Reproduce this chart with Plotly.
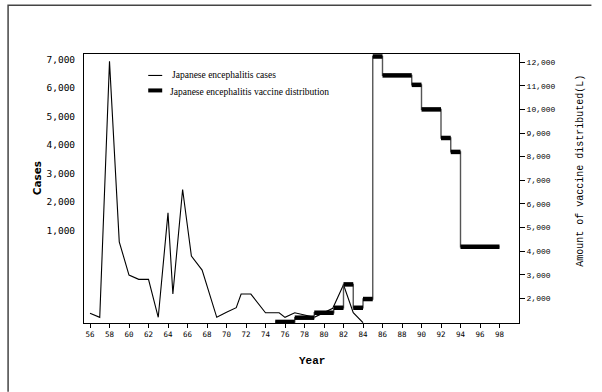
import plotly.graph_objects as go

# ---------------- data ----------------
case_years = [56, 57, 58, 59, 60, 61, 62, 63, 64, 64.5, 65.5, 66.4, 67.5, 69, 70, 71, 71.5, 72.5,
              74, 75.4, 76, 77, 78, 79, 80.9, 82, 83, 84]
cases = [257, 151, 6950, 2157, 1273, 1159, 1159, 151, 2926, 769, 3546, 1777, 1406, 151, 284, 406,
         769, 769, 273, 273, 151, 273, 212, 151, 390, 1016, 273, 8]

vac_years = [75, 76, 77, 78, 79, 80, 81, 82, 83, 84, 85, 86, 87, 88, 89, 90, 91, 92, 93, 94, 95, 96, 97]
vaccine = [1000, 1000, 1180, 1180, 1390, 1390, 1600, 2590, 1600, 1970, 12240, 11440, 11440, 11440,
           11040, 10000, 10000, 8790, 8200, 4180, 4180, 4180, 4180]

x_ticks = list(range(56, 99, 2))
x_ticklabels = [str(v) for v in x_ticks]
case_ticks = [1000, 2000, 3000, 4000, 5000, 6000, 7000]
case_ticklabels = ["1,000", "2,000", "3,000", "4,000", "5,000", "6,000", "7,000"]
vac_ticks = [2000, 3000, 4000, 5000, 6000, 7000, 8000, 9000, 10000, 11000, 12000]
vac_ticklabels = ["2,000", "3,000", "4,000", "5,000", "6,000", "7,000", "8,000", "9,000",
                  "10,000", "11,000", "12,000"]

legend_cases = "Japanese encephalitis cases"
legend_vac = "Japanese encephalitis vaccine distribution"

# ---------------- layout geometry ----------------
W, H = 602, 392
L, R, T, B = 84, 519.5, 53.5, 323.0
PW, PH = R - L, B - T


def px(x):
    return (x - L) / PW


def py(y):
    return (B - y) / PH


fig = go.Figure()

# cases on the main (left) data axis
fig.add_trace(go.Scatter(x=case_years, y=cases, mode="lines", xaxis="x", yaxis="y",
                         line=dict(color="black", width=1.1), showlegend=False))

# thin step connectors of the vaccine series
fig.add_trace(go.Scatter(x=vac_years + [vac_years[-1] + 1], y=vaccine + [vaccine[-1]],
                         mode="lines", xaxis="x", yaxis="y2",
                         line=dict(color="#555555", width=1.4, shape="hv"), showlegend=False))

# thick horizontal bars: one segment per run of equal yearly values
seg_x, seg_y = [], []
i = 0
while i < len(vac_years):
    j = i
    while j + 1 < len(vac_years) and vaccine[j + 1] == vaccine[i]:
        j += 1
    seg_x += [vac_years[i], vac_years[j] + 1, None]
    seg_y += [vaccine[i], vaccine[i], None]
    i = j + 1
fig.add_trace(go.Scatter(x=seg_x, y=seg_y, mode="lines", xaxis="x", yaxis="y2", connectgaps=False,
                         line=dict(color="black", width=4.5), showlegend=False))

# empty trace registering the printed left tick-label axis
fig.add_trace(go.Scatter(x=[None], y=[None], mode="lines", xaxis="x", yaxis="y3",
                         showlegend=False, hoverinfo="skip"))

fig.update_layout(
    width=W, height=H,
    margin=dict(l=L, r=W - R, t=T, b=H - B, pad=0),
    paper_bgcolor="white", plot_bgcolor="white",
    showlegend=False,
    xaxis=dict(range=[55.385, 100], tickvals=x_ticks, ticktext=x_ticklabels,
               ticks="outside", ticklen=4, tickcolor="black", showline=True, mirror=True,
               linecolor="black", linewidth=1, showgrid=False, zeroline=False,
               tickfont=dict(family="DejaVu Sans Mono", size=7.5, color="black")),
    yaxis=dict(range=[0, 7146], showticklabels=False, ticks="", showline=True,
               linecolor="black", linewidth=1, showgrid=False, zeroline=False),
    yaxis2=dict(range=[955, 12346], overlaying="y", side="right", anchor="x", tickvals=vac_ticks,
                ticktext=vac_ticklabels, ticks="outside", ticklen=5, tickcolor="black",
                showline=True, linecolor="black", linewidth=1, showgrid=False, zeroline=False,
                tickfont=dict(family="Liberation Mono", size=8, color="black")),
    yaxis3=dict(range=[-2228, 7182], overlaying="y", side="left", anchor="x",
                tickvals=case_ticks, ticktext=case_ticklabels,
                ticks="outside", ticklen=6, tickcolor="rgba(0,0,0,0)", showline=False,
                showgrid=False, zeroline=False,
                tickfont=dict(family="DejaVu Sans Mono", size=9.5, color="black")),
)

annotations = [
    dict(text="<b>Cases</b>", x=px(37), y=py(178), textangle=-90,
         font=dict(family="DejaVu Sans", size=10.5, color="black")),
    dict(text="<b>Year</b>", x=px(312), y=py(361),
         font=dict(family="Liberation Mono", size=11, color="black")),
    dict(text="Amount of vaccine distributed(L)", x=px(581), y=py(170), textangle=-90,
         font=dict(family="Liberation Mono", size=10, color="black")),
    dict(text=legend_cases, x=px(170), y=py(75), xanchor="left",
         font=dict(family="Liberation Serif", size=9.5, color="black")),
    dict(text=legend_vac, x=px(168.3), y=py(91.5), xanchor="left",
         font=dict(family="Liberation Serif", size=9.5, color="black")),
]
for a in annotations:
    a.update(xref="paper", yref="paper", showarrow=False)
    a.setdefault("xanchor", "center")
    a.setdefault("yanchor", "middle")
fig.update_layout(annotations=annotations)

shapes = [
    dict(type="line", x0=px(148.3), x1=px(162.3), y0=py(75), y1=py(75),
         line=dict(color="black", width=1.1)),
    dict(type="line", x0=px(148.3), x1=px(162.3), y0=py(90), y1=py(90),
         line=dict(color="black", width=4)),
    dict(type="path", path=f"M {px(8)} {py(392)} L {px(8)} {py(4.6)} L {px(592)} {py(4.6)}",
         line=dict(color="#444444", width=1.5)),
]
for s in shapes:
    s.update(xref="paper", yref="paper", layer="above")
fig.update_layout(shapes=shapes)

fig.write_html("out.html", config={"displayModeBar": False},
               post_script="document.body.style.margin='0px';")
